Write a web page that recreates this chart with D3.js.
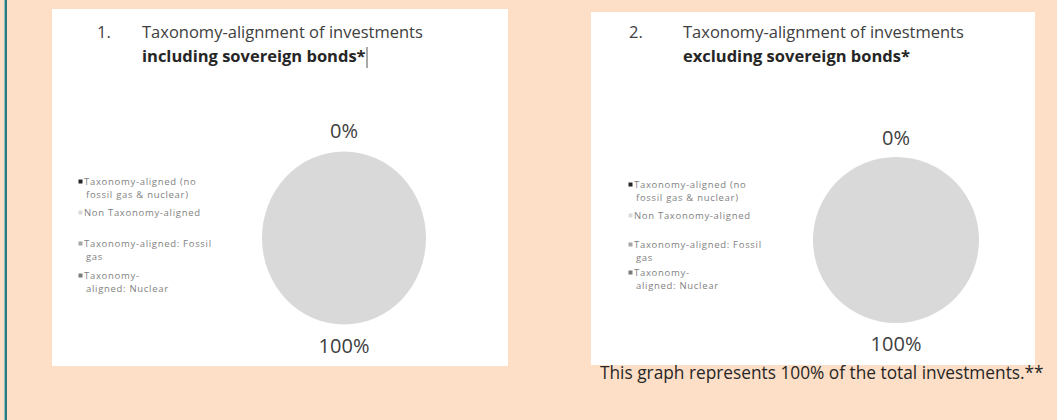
<!DOCTYPE html>
<html>
<head>
<meta charset="utf-8">
<script src="https://cdn.jsdelivr.net/npm/d3@7"></script>
<style>
  body { margin: 0; background: #fddfc7; }
  svg { display: block; font-family: "Open Sans", sans-serif; }
</style>
</head>
<body>
<div id="chart"></div>
<script>
// 数据
const categories = [
  ["Taxonomy-aligned (no", "fossil gas & nuclear)"],
  ["Non Taxonomy-aligned"],
  ["Taxonomy-aligned: Fossil", "gas"],
  ["Taxonomy-", "aligned: Nuclear"]
];
const inclSovereign = [0, 100, 0, 0];
const exclSovereign = [0, 100, 0, 0];
const titleNumbers = ["1.", "2."];
const titleLine1 = "Taxonomy-alignment of investments";
const titleLine2 = ["including sovereign bonds*", "excluding sovereign bonds*"];
const footnote = "This graph represents 100% of the total investments.**";

const colors = ["#262626", "#d9d9d9", "#a6a6a6", "#7a7a7a"];

const width = 1057, height = 420;
const svg = d3.select("#chart").append("svg")
    .attr("width", width)
    .attr("height", height);

svg.append("rect").attr("width", width).attr("height", height).attr("fill", "#fddfc7");
// 左边框
svg.append("rect").attr("x", 4).attr("y", 0).attr("width", 1).attr("height", height).attr("fill", "#8fbcbf");
svg.append("rect").attr("x", 5).attr("y", 0).attr("width", 2).attr("height", height).attr("fill", "#2b7a80");

const panels = [
  { x0: 52, y0: 9, x1: 508, y1: 366, numX: 97, titleX: 142, cx: 344, cy: 238, r: 82, sy: 1.055,
    legX: 80, legY: [182, 213, 244, 276], data: inclSovereign, cursor: true },
  { x0: 591, y0: 12, x1: 1035, y1: 365, numX: 629, titleX: 683, cx: 896, cy: 240, r: 83, sy: 1,
    legX: 630, legY: [185, 216, 245, 273], data: exclSovereign, cursor: false }
];

const pie = d3.pie().sort(null).value(d => d);

panels.forEach((p, i) => {
  const g = svg.append("g");
  g.append("rect")
    .attr("x", p.x0).attr("y", p.y0)
    .attr("width", p.x1 - p.x0).attr("height", p.y1 - p.y0)
    .attr("fill", "#fff");

  // 标题
  g.append("text").attr("x", p.numX).attr("y", 38)
    .attr("font-size", 16.5).attr("fill", "#404040").text(titleNumbers[i]);
  g.append("text").attr("x", p.titleX).attr("y", 38)
    .attr("font-size", 16.5).attr("fill", "#404040").text(titleLine1);
  g.append("text").attr("x", p.titleX).attr("y", 62)
    .attr("font-size", 16.5).attr("font-weight", "bold").attr("fill", "#262626").text(titleLine2[i]);
  if (p.cursor) {
    g.append("line").attr("x1", 367).attr("x2", 367).attr("y1", 47).attr("y2", 68)
      .attr("stroke", "#555").attr("stroke-width", 1);
  }

  // 饼图
  const arcs = pie(p.data);
  const arc = d3.arc().innerRadius(0).outerRadius(p.r);
  const labelArc = d3.arc().innerRadius(p.r + 20).outerRadius(p.r + 20);
  const pg = g.append("g").attr("transform", `translate(${p.cx},${p.cy}) scale(1,${p.sy})`);
  pg.selectAll("path")
    .data(arcs)
    .join("path")
    .attr("d", arc)
    .attr("fill", (d, j) => colors[j]);

  // 标签 (重叠的0%只画一次)
  const seen = new Set();
  const labels = arcs.filter(d => {
    const key = labelArc.centroid(d).map(v => Math.round(v)).join(",");
    if (seen.has(key)) return false;
    seen.add(key);
    return true;
  });
  g.selectAll(".pie-label")
    .data(labels)
    .join("text")
    .attr("class", "pie-label")
    .attr("x", d => p.cx + labelArc.centroid(d)[0])
    .attr("y", d => p.cy + labelArc.centroid(d)[1] * p.sy)
    .attr("text-anchor", "middle")
    .attr("dominant-baseline", "central")
    .attr("font-size", 20)
    .attr("fill", "#404040")
    .text(d => d.value + "%");

  // 图例
  const leg = g.selectAll(".legend")
    .data(categories)
    .join("g")
    .attr("class", "legend")
    .attr("transform", (d, j) => `translate(${p.legX},${p.legY[j]})`);
  leg.append("rect")
    .attr("x", -1.5).attr("y", -2.5).attr("width", 4).attr("height", 4)
    .attr("fill", (d, j) => colors[j]);
  leg.append("text")
    .attr("font-size", 9.5)
    .attr("letter-spacing", 0.7)
    .attr("fill", "#7f7f7f")
    .selectAll("tspan")
    .data(d => d)
    .join("tspan")
    .attr("x", (d, k) => k === 0 ? 4 : 6)
    .attr("dy", (d, k) => k === 0 ? "0.35em" : 12.5)
    .text(d => d);
});

svg.append("text")
  .attr("x", 600).attr("y", 379)
  .attr("font-size", 17.3)
  .attr("fill", "#262626")
  .text(footnote);
</script>
</body>
</html>
